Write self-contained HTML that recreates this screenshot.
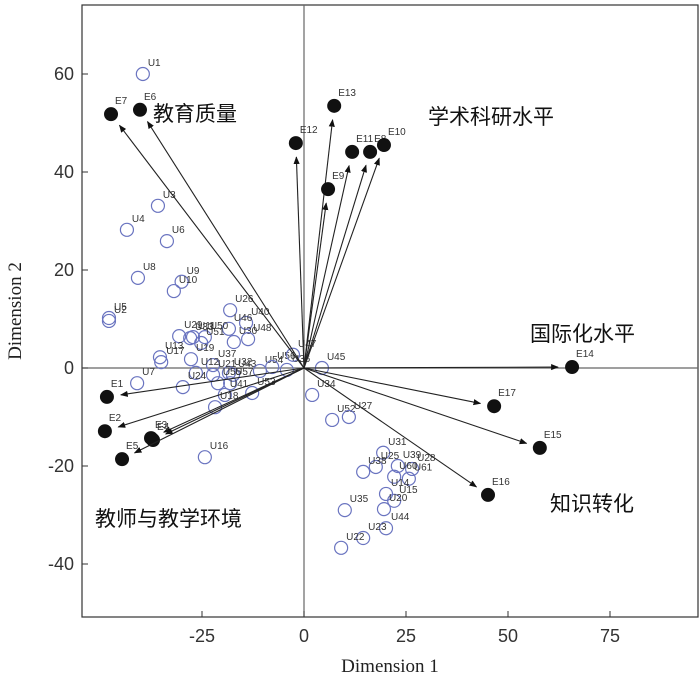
<!DOCTYPE html>
<html><head><meta charset="utf-8"><style>
body{margin:0;background:#fff}
svg text{font-family:"Liberation Sans",sans-serif}
.cn{font-family:"Liberation Sans","Noto Sans CJK SC",sans-serif;font-size:21px;fill:#111}
.ser{font-family:"Liberation Serif",serif}
</style></head><body>
<svg id="chart" width="700" height="680" xmlns="http://www.w3.org/2000/svg">
<defs><marker id="ah" viewBox="0 0 10 10" refX="9" refY="5" markerWidth="7" markerHeight="7" orient="auto"><path d="M0,1 L10,5 L0,9 z" fill="#111"/></marker></defs>
<g id="axes"></g><g id="marks"></g>
<text class="cn" x="153" y="121">教育质量</text>
<text class="cn" x="428" y="124">学术科研水平</text>
<text class="cn" x="530" y="341">国际化水平</text>
<text class="cn" x="550" y="511">知识转化</text>
<text class="cn" x="95" y="526">教师与教学环境</text>
<text class="ser" x="390" y="672" font-size="19" text-anchor="middle" fill="#222">Dimension 1</text>
<text class="ser" transform="translate(21,311) rotate(-90)" font-size="19" text-anchor="middle" fill="#222">Dimension 2</text>
</svg>
<script>
const xTicks=[-25,0,25,50,75];
const yTicks=[-40,-20,0,20,40,60];
const uNames=["U1","U3","U4","U6","U8","U9","U10","U5","U2","U26","U40","U46","U29","U33","U11","U50","U51","U30","U48","U13","U17","U19","U37","U32","U43","U21","U12","U54","U56","U36","U47","U45","U7","U24","U55","U57","U53","U41","U18","U34","U52","U16","U27","U31","U25","U38","U39","U28","U60","U61","U14","U15","U20","U35","U44","U23","U22"];
const uX=[-39.5,-35.8,-43.4,-33.6,-40.7,-30.0,-31.9,-47.8,-47.8,-18.1,-14.2,-18.4,-30.6,-27.9,-27.2,-24.3,-25.2,-17.2,-13.7,-35.3,-35.0,-27.7,-22.3,-18.4,-17.4,-22.3,-26.5,-10.8,-7.8,-4.2,-2.7,4.4,-40.9,-29.7,-21.1,-18.1,-12.7,-19.4,-21.8,2.0,6.9,-24.3,11.0,19.4,17.6,14.5,23.0,26.5,22.1,25.7,20.1,22.1,19.6,10.0,20.1,14.5,9.1];
const uY=[60.0,33.1,28.2,25.9,18.4,17.6,15.7,10.2,9.6,11.8,9.2,8.0,6.5,6.1,6.3,6.3,5.1,5.3,5.9,2.2,1.2,1.8,0.6,-1.0,-1.4,-1.4,-1.0,-0.6,0.2,-0.4,2.7,0,-3.1,-3.9,-3.1,-3.1,-5.1,-5.5,-8.0,-5.5,-10.6,-18.2,-10.0,-17.3,-20.2,-21.2,-20.0,-20.6,-22.2,-22.6,-25.7,-27.1,-28.8,-29.0,-32.7,-34.7,-36.7];
const eNames=["E7","E6","E12","E13","E11","E8","E10","E9","E14","E17","E15","E16","E1","E2","E3","E4","E5"];
const eX=[-47.3,-40.2,-2.0,7.4,11.8,16.2,19.6,5.9,65.7,46.6,57.8,45.1,-48.3,-48.8,-37.5,-37.0,-44.6];
const eY=[51.8,52.7,45.9,53.5,44.1,44.1,45.5,36.5,0.2,-7.8,-16.3,-25.9,-5.9,-12.9,-14.3,-14.7,-18.6];
const L=82,T=5,R=698,B=617;
const sx=v=>304+v*4.08, sy=v=>368-v*4.9;
const NS="http://www.w3.org/2000/svg";
function mk(tag,at,parent,txt){const e=document.createElementNS(NS,tag);for(const k in at)e.setAttribute(k,at[k]);if(txt!==undefined)e.textContent=txt;parent.appendChild(e);return e;}
const ax=document.getElementById('axes'),mg=document.getElementById('marks');
let f=mk('rect',{x:L,y:T,width:R-L,height:B-T,fill:'none',stroke:'#333','stroke-width':1.2},ax);


let h=mk('line',{x1:L,x2:R,y1:sy(0),y2:sy(0),stroke:'#666','stroke-width':1.2},ax);


let v=mk('line',{x1:sx(0),x2:sx(0),y1:T,y2:B,stroke:'#666','stroke-width':1.2},ax);


xTicks.forEach(t=>{mk('line',{x1:sx(t),x2:sx(t),y1:B,y2:B-6,stroke:'#333'},ax);
 const e=mk('text',{x:sx(t),y:B+25,'font-size':18,'text-anchor':'middle',fill:'#333'},ax,t);
 
 });
yTicks.forEach(t=>{mk('line',{x1:L,x2:L+6,y1:sy(t),y2:sy(t),stroke:'#333'},ax);
 const e=mk('text',{x:L-8,y:sy(t)+6,'font-size':18,'text-anchor':'end',fill:'#333'},ax,t);
 
 });
uX.forEach((x,i)=>{const c=mk('circle',{cx:sx(x),cy:sy(uY[i]),r:6.5,fill:'none',stroke:'#6a74c0','stroke-width':1.2},mg);
 
 
 const t=mk('text',{x:sx(x)+5,y:sy(uY[i])-8,'font-size':10,fill:'#333'},mg,uNames[i]);
 
 });
eX.forEach((x,i)=>{const px=sx(x),py=sy(eY[i]),dx=px-sx(0),dy=py-sy(0),d=Math.hypot(dx,dy),k=(d-14)/d;
 const a=mk('line',{x1:sx(0),y1:sy(0),x2:sx(0)+dx*k,y2:sy(0)+dy*k,stroke:'#222','stroke-width':1.1,'marker-end':'url(#ah)'},mg);
 
 
 const c=mk('circle',{cx:px,cy:py,r:7,fill:'#111'},mg);
 
 
 const t=mk('text',{x:px+4,y:py-10,'font-size':10,fill:'#333'},mg,eNames[i]);
 
 });
</script>
</body></html>
